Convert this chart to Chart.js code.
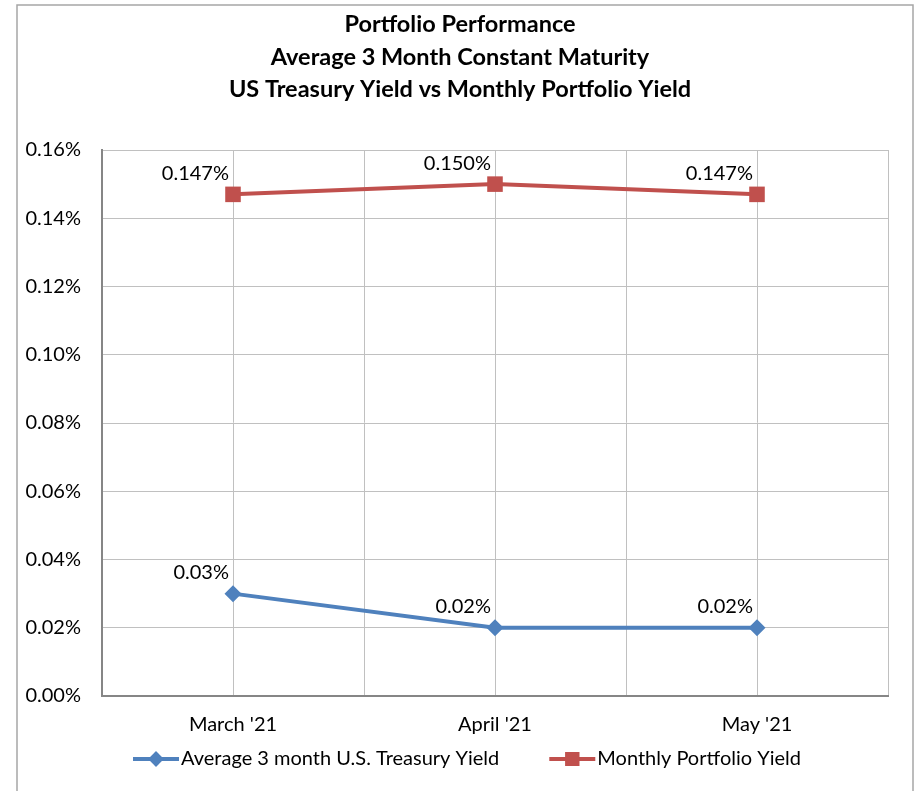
<!DOCTYPE html>
<html><head><meta charset="utf-8">
<script src="https://cdn.jsdelivr.net/npm/chart.js@4.4.1/dist/chart.umd.min.js"></script>
<style>html,body{margin:0;padding:0;background:#fff;}#wrap{width:920px;height:791px;}</style>
</head><body><div id="wrap"><canvas id="c" width="920" height="791"></canvas></div>
<script>
const categories = ["March '21", "April '21", "May '21"];
const treasuryYield = [0.03, 0.02, 0.02];
const portfolioYield = [0.147, 0.150, 0.147];
const treasuryLabels = ["0.03%", "0.02%", "0.02%"];
const portfolioLabels = ["0.147%", "0.150%", "0.147%"];
const yTickValues = [0, 0.02, 0.04, 0.06, 0.08, 0.10, 0.12, 0.14, 0.16];
const titleLines = ["Portfolio Performance", "Average 3 Month Constant Maturity", "US Treasury Yield vs Monthly Portfolio Yield"];
const seriesNames = ["Average 3 month U.S. Treasury Yield", "Monthly Portfolio Yield"];

const FONT = "Lato, 'Open Sans', sans-serif";
const BLUE = '#4f81bd', RED = '#c0504d';

const frame = {
  id: 'frame',
  beforeDraw(chart) {
    const ctx = chart.ctx;
    ctx.save();
    ctx.fillStyle = '#fff';
    ctx.fillRect(0, 0, chart.width, chart.height);
    ctx.strokeStyle = '#a6a6a6';
    ctx.lineWidth = 1.5;
    ctx.strokeRect(17, 5, 896, 900);
    ctx.restore();
  },
  afterDraw(chart) {
    const ctx = chart.ctx;
    ctx.save();
    // title
    ctx.fillStyle = '#000';
    ctx.font = "bold 23.5px " + FONT;
    ctx.textAlign = 'center';
    ctx.textBaseline = 'middle';
    const ty = [24, 57, 89];
    titleLines.forEach((t, i) => ctx.fillText(t, 460, ty[i]));
    // legend
    ctx.font = "20px " + FONT;
    ctx.textAlign = 'left';
    const lineLen = 46, gapText = 2, gapItem = 50, ly = 759;
    const items = chart.data.datasets.map(ds => ({ds, w: ctx.measureText(ds.label).width}));
    const total = items.reduce((s, it) => s + lineLen + gapText + it.w, 0) + gapItem * (items.length - 1);
    let x = 467 - total / 2;
    items.forEach(it => {
      const ds = it.ds;
      ctx.strokeStyle = ds.borderColor;
      ctx.lineWidth = ds.borderWidth;
      ctx.beginPath();
      ctx.moveTo(x, ly); ctx.lineTo(x + lineLen, ly); ctx.stroke();
      ctx.fillStyle = ds.backgroundColor;
      Chart.helpers.drawPoint(ctx, {pointStyle: ds.pointStyle, radius: ds.pointRadius * 0.9, borderWidth: 0}, x + lineLen / 2, ly);
      ctx.fill();
      ctx.fillStyle = '#000';
      ctx.fillText(ds.label, x + lineLen + gapText, ly);
      x += lineLen + gapText + it.w + gapItem;
    });
    ctx.restore();
  },
  afterDatasetsDraw(chart) {
    const ctx = chart.ctx;
    ctx.save();
    ctx.font = "20px " + FONT;
    ctx.fillStyle = '#000';
    ctx.textAlign = 'right';
    ctx.textBaseline = 'middle';
    chart.data.datasets.forEach((ds, di) => {
      const meta = chart.getDatasetMeta(di);
      meta.data.forEach((pt, i) => {
        ctx.fillText(ds.valueLabels[i], pt.x - 4, pt.y - 21);
      });
    });
    ctx.restore();
  }
};

new Chart(document.getElementById('c'), {
  type: 'line',
  data: {
    datasets: [
      {
        label: seriesNames[0],
        data: treasuryYield.map((v, i) => ({x: i, y: v})),
        valueLabels: treasuryLabels,
        borderColor: BLUE, backgroundColor: BLUE,
        borderWidth: 4, pointStyle: 'rectRot', pointRadius: 8.5,
        pointBorderWidth: 0, tension: 0
      },
      {
        label: seriesNames[1],
        data: portfolioYield.map((v, i) => ({x: i, y: v})),
        valueLabels: portfolioLabels,
        borderColor: RED, backgroundColor: RED,
        borderWidth: 4, pointStyle: 'rect', pointRadius: 11,
        pointBorderWidth: 0, tension: 0
      }
    ]
  },
  options: {
    responsive: false,
    animation: false,
    layout: {padding: {top: 150, left: 0, right: 32, bottom: 55}},
    plugins: {legend: {display: false}, title: {display: false}, tooltip: {enabled: false}},
    scales: {
      x: {
        type: 'linear', min: -0.5, max: 2.5,
        afterBuildTicks: s => { s.ticks = [-0.5, 0, 0.5, 1, 1.5, 2, 2.5].map(v => ({value: v})); },
        afterFit: s => { s.height = 40; },
        grid: {color: '#c0c0c0', lineWidth: 1, drawTicks: false},
        border: {color: '#868686', width: 2},
        ticks: {
          autoSkip: false, maxRotation: 0, padding: 17, color: '#000',
          font: {family: FONT, size: 20},
          callback: v => Number.isInteger(v) ? categories[v] : ''
        }
      },
      y: {
        min: 0, max: 0.16,
        afterBuildTicks: s => { s.ticks = yTickValues.map(v => ({value: v})); },
        afterFit: s => { s.width = 102; },
        grid: {color: '#c0c0c0', lineWidth: 1, drawTicks: false},
        border: {color: '#868686', width: 2},
        ticks: {
          padding: 21, color: '#000',
          font: {family: FONT, size: 20},
          callback: v => v.toFixed(2) + '%'
        }
      }
    }
  },
  plugins: [frame]
});
</script>
</body></html>
